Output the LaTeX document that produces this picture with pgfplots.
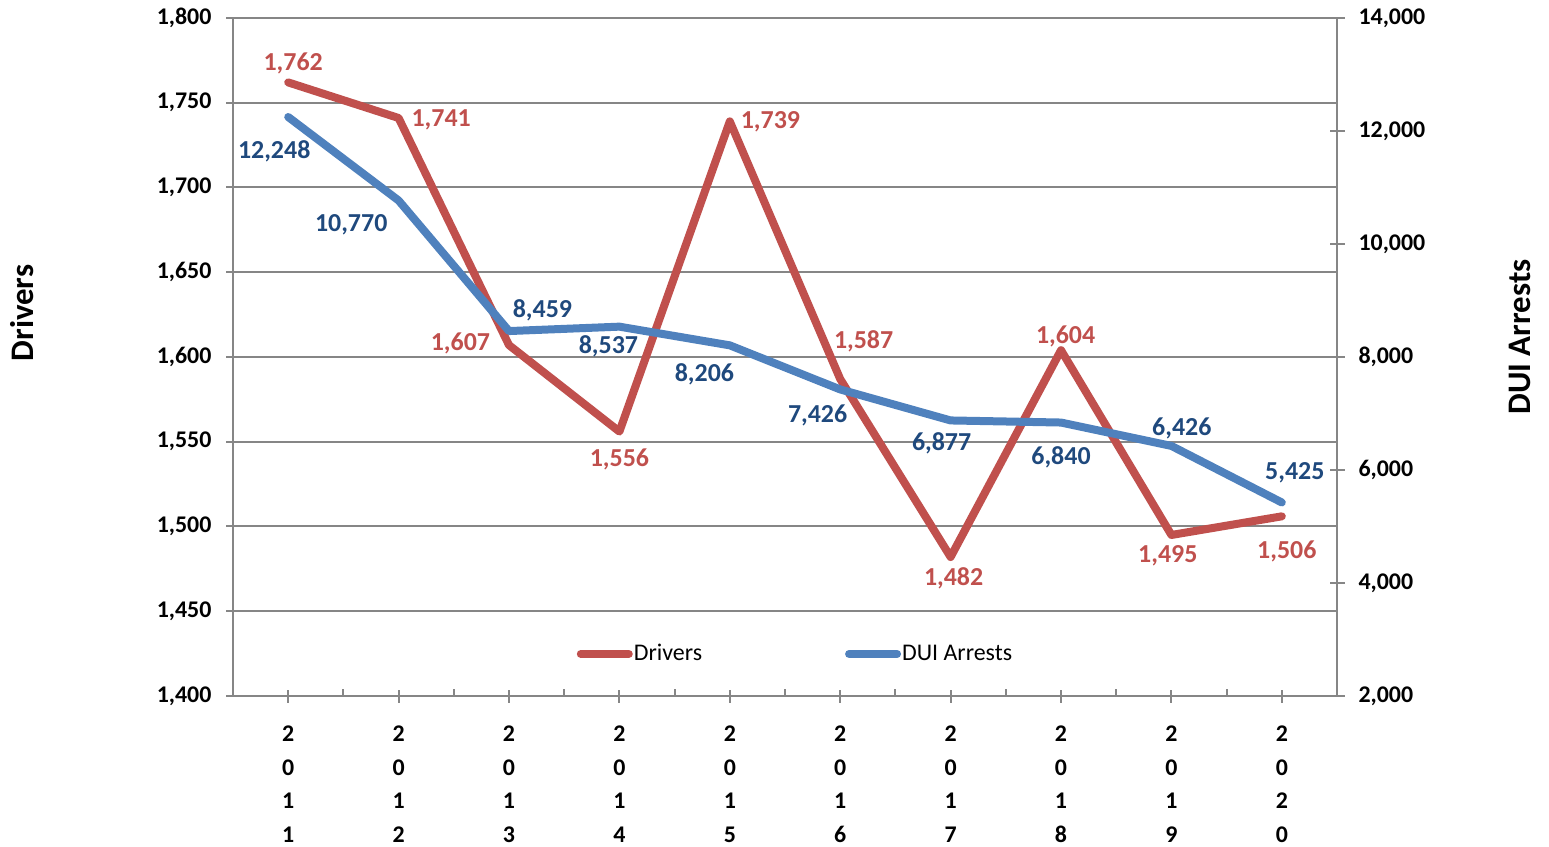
\documentclass[border=0pt]{standalone}
\usepackage{pgfplots}
\pgfplotsset{compat=1.18}
\usepackage{pgfplotstable}
\usepackage{fontspec}
\setmainfont{Carlito}
\definecolor{drv}{HTML}{C0504D}
\definecolor{dui}{HTML}{4F81BD}
\definecolor{duitxt}{HTML}{1F497D}
\definecolor{axgray}{HTML}{868686}

\pgfplotstableread{
x y dx dy
0 1762 2.5 9.7
1 1741 21.3 -1
2 1607 -24.3 1
3 1556 0 -13.7
4 1739 20.3 -0.3
5 1587 11.7 19
6 1482 1.5 -10.5
7 1604 2.3 7.1
8 1495 -1.8 -10.5
9 1506 2.5 -17.3
}\drivers

\pgfplotstableread{
x y dx dy
0 12248 -7 -17
1 10770 -23.7 -12.2
2 8459 16.7 10.5
3 8537 -5.5 -9.6
4 8206 -12.7 -14.3
5 7426 -11.3 -12.8
6 6877 -4.5 -11.3
7 6840 0 -17.2
8 6426 5.2 9
9 5425 6.5 14.8
}\dui

\pgfplotsset{
  common/.style={
    at={(0,0)}, anchor=south west,
    width=552bp, height=339bp, scale only axis,
    xmin=-0.5, xmax=9.5,
    scaled y ticks=false,
    /pgf/number format/assume math mode=true,
    /pgf/number format/.cd, fixed, precision=0, 1000 sep={,}, /pgfplots/.cd,
    axis line style={axgray, line width=1bp},
    tick style={axgray, line width=1bp},
    clip=false,
  },
  lbl/.style={
    nodes near coords,
    point meta=y,
    visualization depends on={\thisrow{dx} \as \dx},
    visualization depends on={\thisrow{dy} \as \dy},
    nodes near coords style={anchor=center, xshift=\dx bp, yshift=\dy bp,
      font=\bfseries\fontsize{13}{15}\selectfont, inner sep=0pt},
  },
}

\begin{document}
\begin{tikzpicture}
\begin{axis}[common,
  ymin=1400, ymax=1800,
  ytick={1400,1450,...,1800},
  yticklabel style={font=\bfseries\fontsize{12}{14}\selectfont, text=black, xshift=-4bp},
  xtick={0,...,9},
  xticklabels={{2\\0\\1\\1},{2\\0\\1\\2},{2\\0\\1\\3},{2\\0\\1\\4},{2\\0\\1\\5},{2\\0\\1\\6},{2\\0\\1\\7},{2\\0\\1\\8},{2\\0\\1\\9},{2\\0\\2\\0}},
  xticklabel style={align=center, font=\bfseries\fontsize{12}{17}\selectfont, yshift=-8bp},
  extra x ticks={-0.5,0.5,...,9.5},
  extra x tick labels={},
  extra tick style={tick align=inside, major tick length=3.5bp, grid=none},
  axis x line*=bottom, axis y line*=left,
  tick align=center, major tick length=6.5bp,
  ymajorgrids, grid style={axgray, line width=1bp},
  every axis y label/.style={at={(axis description cs:-0.191,0.565)}, rotate=90, anchor=center},
  ylabel={Drivers},
  ylabel style={font=\bfseries\fontsize{16.5}{18}\selectfont},
  legend style={at={(axis description cs:0.509,0.062)}, anchor=center, draw=none, fill=none,
    legend columns=2, font=\fontsize{12}{14}\selectfont,
    nodes={inner xsep=0.5bp},
    /tikz/every even column/.append style={column sep=71bp}},
  legend image code/.code={\draw[#1, line width=4bp, line cap=round] (0bp,0bp) -- (24bp,0bp);},
]
\addplot[drv, line width=4bp, line join=round, line cap=round, lbl,
  nodes near coords style={text=drv}] table[x=x, y=y] {\drivers};
\addlegendentry{Drivers}
\addlegendimage{dui, line width=4bp}
\addlegendentry{DUI Arrests}
\end{axis}
\begin{axis}[common,
  ymin=2000, ymax=14000,
  ytick={2000,4000,...,14000},
  yticklabel style={font=\bfseries\fontsize{12}{14}\selectfont, text=black, xshift=3.5bp},
  axis y line*=right, axis x line=none,
  tick align=center, major tick length=7.5bp,
  every axis y label/.style={at={(axis description cs:1.1658,0.5295)}, rotate=90, anchor=center},
  ylabel={DUI Arrests},
  ylabel style={font=\bfseries\fontsize{16.5}{18}\selectfont},
]
\addplot[dui, line width=4bp, line join=round, line cap=round, lbl,
  nodes near coords style={text=duitxt}] table[x=x, y=y] {\dui};
\end{axis}
\pgfresetboundingbox
\path (-116.5bp,-75.5bp) rectangle (658bp,348bp);
\end{tikzpicture}
\end{document}
